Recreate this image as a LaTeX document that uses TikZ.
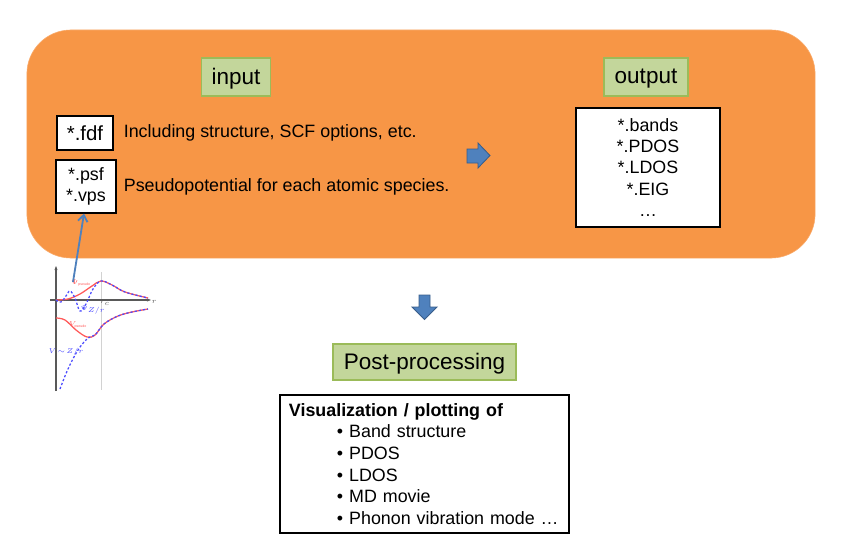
\documentclass[tikz,border=0pt]{standalone}
\usepackage{fontspec}
\setmainfont{Liberation Sans}
\usetikzlibrary{positioning, arrows.meta, calc}

\definecolor{panelorange}{HTML}{F79646}
\definecolor{tagfill}{HTML}{C3D69B}
\definecolor{tagline}{HTML}{9BBB59}
\definecolor{arrowblue}{HTML}{4F81BD}
\definecolor{arrowline}{HTML}{385D8A}
\definecolor{psired}{HTML}{FF5A5A}
\definecolor{aeblue}{HTML}{4B4BFF}

\begin{document}
\begin{tikzpicture}[
    x=0.025cm, y=-0.025cm,
    panel/.style={
        draw=panelorange!80!white,
        fill=panelorange,
        rounded corners=1.1cm,
        minimum width=19.7cm,
        minimum height=5.7cm
    },
    tag/.style={
        draw=tagline,
        fill=tagfill,
        thick,
        inner sep=0pt,
        text depth=0.1em,
        font=\fontsize{16}{19}\selectfont
    },
    filebox/.style={
        draw=black,
        fill=white,
        thick,
        inner sep=0pt,
        align=center,
        font=\fontsize{12.7}{15.2}\selectfont
    },
    note/.style={
        inner sep=0pt,
        font=\fontsize{12.7}{15}\selectfont
    },
    blockarrow/.style={
        fill=arrowblue,
        draw=arrowline,
        line width=0.6pt
    },
    link/.style={
        -{Straight Barb[length=1.6mm, width=2.4mm]},
        line width=1.3pt,
        arrowblue
    },
    axis/.style={
        -{Stealth[length=1mm]},
        line width=0.9pt,
        gray!70!black
    },
    psicurve/.style={psired, line width=0.9pt},
    aecurve/.style={aeblue, line width=0.9pt, dash pattern=on 1.6pt off 1.4pt},
    plotlabel/.style={inner sep=0pt, font=\fontsize{3.6}{4.5}\selectfont}
]
    \useasboundingbox (0,0) rectangle (844,553);

    % Orange panel with input / output
    \node[panel] (panel) at (421,144) {};
    \node[tag, minimum width=1.725cm, minimum height=0.95cm] (input) at (236,77) {input};
    \node[tag, minimum width=2.1cm, minimum height=0.95cm] (output) at (646,77) {output};

    % Input files
    \node[filebox, minimum width=1.4cm, minimum height=0.85cm, font=\fontsize{14.5}{17}\selectfont] (fdf) at (85,133) {*.fdf};
    \node[filebox, minimum width=1.5cm, minimum height=1.325cm] (psf) at (86,186.5) {*.psf\\*.vps};
    \node[note, right=0.25cm of fdf] (fdfnote) {Including structure, SCF options, etc.};
    \node[note, right=0.175cm of psf] (psfnote) {Pseudopotential for each atomic species.};

    % Output files
    \node[filebox, minimum width=3.6cm, minimum height=2.975cm] (outfiles) at (648,167.5) {*.bands\\*.PDOS\\*.LDOS\\*.EIG\\…};

    % Block arrows
    \draw[blockarrow] (467,149) -- (478,149) -- (478,143) -- (490,155.5) -- (478,168) -- (478,163) -- (467,163) -- cycle;
    \draw[blockarrow] (419,295) -- (430,295) -- (430,307) -- (437,307) -- (424.5,319.5) -- (412,307) -- (419,307) -- cycle;

    % Post-processing
    \node[tag, minimum width=4.575cm, minimum height=0.9cm] (post) at (424.5,362) {Post-processing};
    \node[filebox, align=left, text width=6.775cm, inner xsep=0.225cm, minimum height=3.45cm,
          font=\fontsize{12.7}{15.4}\selectfont] (viz) at (424.5,464) {%
        \textbf{Visualization / plotting of}\\
        \hspace*{1.2cm}• Band structure\\
        \hspace*{1.2cm}• PDOS\\
        \hspace*{1.2cm}• LDOS\\
        \hspace*{1.2cm}• MD movie\\
        \hspace*{1.2cm}• Phonon vibration mode …};

    % Pseudopotential sketch
    \draw[gray!35, line width=0.6pt] (101,272) -- (101,390);
    \draw[axis] (56,391) -- (56,266);
    \draw[axis] (50,300) -- (151,300);
    \draw[psicurve] plot[smooth, tension=0.6] coordinates {(56,300) (68,299) (80,294) (92,286) (101,281) (112,285) (125,292) (148,298)};
    \draw[aecurve] plot[smooth, tension=0.6] coordinates {(56,300) (61,302) (66,296) (70,291) (75,298) (80,311) (86,304) (93,289) (101,281) (112,285) (125,292) (148,298)};
    \draw[psicurve] plot[smooth, tension=0.6] coordinates {(56,318) (65,320) (76,330) (87,337) (95,335) (104,324) (118,316) (132,312) (148,309)};
    \draw[aecurve] plot[smooth, tension=0.6] coordinates {(60,389) (68,369) (78,350) (88,338) (95,335) (104,324) (118,316) (132,312) (148,309)};
    \node[plotlabel, text=psired] (psilabel) at (81,283) {$\Psi_{\mathrm{pseudo}}$};
    \node[plotlabel, text=aeblue] (aelabel) at (93,310) {$\Psi_{Z/r}$};
    \node[plotlabel, text=psired] (vlabel) at (78,325) {$V_{\mathrm{pseudo}}$};
    \node[plotlabel, text=aeblue] (zlabel) at (66,352) {$V\!\sim\!Z/r$};
    \node[plotlabel, text=gray!70!black] (rclabel) at (105,303) {$r_c$};
    \node[plotlabel, text=gray!70!black] (rlabel) at (154,302) {$r$};

    % Link from sketch to pseudopotential files
    \coordinate (psiref) at (73,282);
    \draw[link] (psiref) -- ([xshift=-0.05cm]psf.south);

\end{tikzpicture}
\end{document}
